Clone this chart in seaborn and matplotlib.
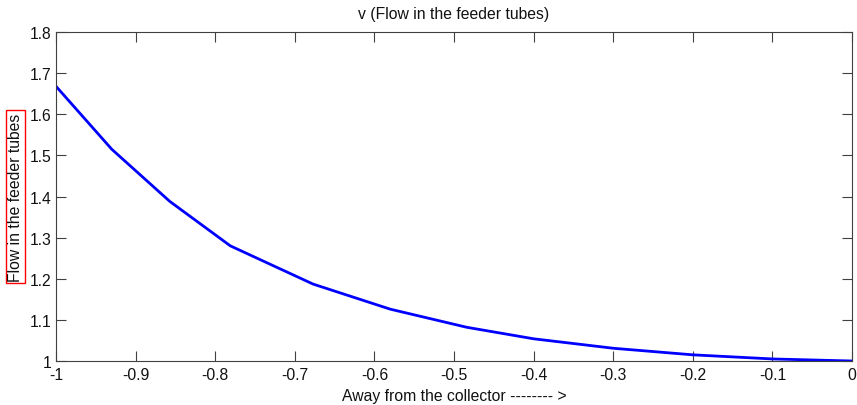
import matplotlib
matplotlib.use("Agg")
import matplotlib.pyplot as plt
import seaborn as sns
import pandas as pd

x_vals = [-1.0, -0.93, -0.857, -0.781, -0.677, -0.58, -0.484, -0.40, -0.30, -0.20, -0.10, 0.0]
flow = [1.668, 1.515, 1.388, 1.28, 1.187, 1.126, 1.082, 1.054, 1.031, 1.015, 1.005, 1.0]
x_ticks = [-1, -0.9, -0.8, -0.7, -0.6, -0.5, -0.4, -0.3, -0.2, -0.1, 0]
x_tick_labels = ["-1", "-0.9", "-0.8", "-0.7", "-0.6", "-0.5", "-0.4", "-0.3", "-0.2", "-0.1", "0"]
y_ticks = [1, 1.1, 1.2, 1.3, 1.4, 1.5, 1.6, 1.7, 1.8]
y_tick_labels = ["1", "1.1", "1.2", "1.3", "1.4", "1.5", "1.6", "1.7", "1.8"]

sns.set_style("white")
plt.rcParams['font.family'] = ['Liberation Sans', 'DejaVu Sans']

df = pd.DataFrame({"x": x_vals, "v": flow})

fig = plt.figure(figsize=(8.57, 4.06), dpi=100)
ax = fig.add_axes([56/857, 44/406, 796/857, 329/406])
sns.lineplot(data=df, x="x", y="v", ax=ax, color="#0000ff", linewidth=2.0, sort=False)

ax.set_xlim(-1, 0)
ax.set_ylim(1, 1.8)
ax.set_xticks(x_ticks)
ax.set_xticklabels(x_tick_labels)
ax.set_yticks(y_ticks)
ax.set_yticklabels(y_tick_labels)
ax.tick_params(direction="in", length=7, width=0.8, color="#404040",
               labelsize=11.3, labelcolor="#111111",
               top=True, right=True, bottom=True, left=True)
ax.tick_params(axis="y", pad=3)
ax.tick_params(axis="x", pad=4)
for s in ax.spines.values():
    s.set_visible(True)
    s.set_color("#404040")
    s.set_linewidth(0.8)

ax.set_title("v (Flow in the feeder tubes)", fontsize=11.3, color="#111111", pad=10)
ax.set_xlabel("Away from the collector -------- >", fontsize=11.3, color="#111111", labelpad=5)
ax.set_ylabel("Flow in the feeder tubes", fontsize=11.3, color="#111111", labelpad=5,
              bbox=dict(boxstyle="square,pad=0.15", facecolor="none", edgecolor="red", linewidth=1))

fig.savefig("out.png", dpi=100)
